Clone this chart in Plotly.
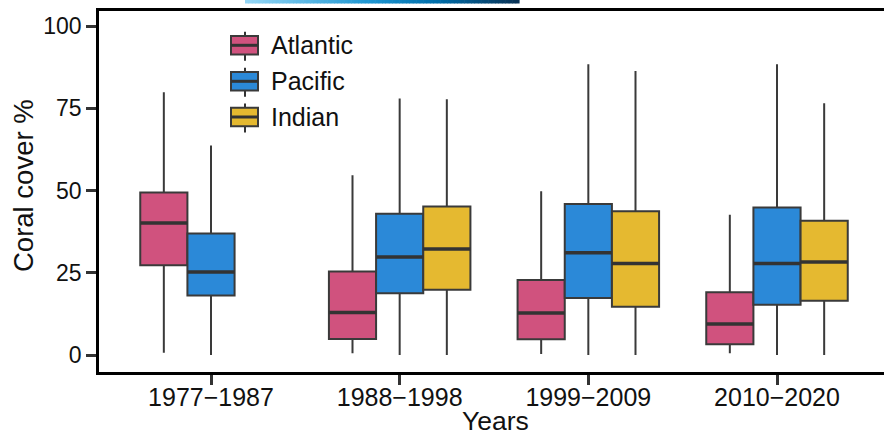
import plotly.graph_objects as go

# ---- data ----
periods = ["1977\u22121987", "1988\u22121998", "1999\u22122009", "2010\u22122020"]
oceans = ["Atlantic", "Pacific", "Indian"]

atl_low = [0.7, 0.5, 0.3, 0.5]
atl_q1 = [27.3, 4.9, 4.8, 3.3]
atl_med = [40.1, 12.9, 12.8, 9.4]
atl_q3 = [49.4, 25.4, 22.8, 19.1]
atl_high = [79.9, 54.6, 49.8, 42.6]

pac_low = [0.0, 0.0, 0.0, 0.0]
pac_q1 = [18.1, 18.8, 17.3, 15.3]
pac_med = [25.2, 29.8, 31.1, 27.8]
pac_q3 = [36.9, 42.9, 45.9, 44.8]
pac_high = [63.7, 78.0, 88.4, 88.4]

ind_periods = periods[1:]
ind_low = [0.0, 0.0, 0.0]
ind_q1 = [19.8, 14.7, 16.5]
ind_med = [32.2, 27.8, 28.3]
ind_q3 = [45.1, 43.7, 40.8]
ind_high = [77.7, 86.3, 76.5]

y_ticks = [0, 25, 50, 75, 100]

colors = {"Atlantic": "rgb(208,82,126)", "Pacific": "rgb(43,137,216)", "Indian": "rgb(229,185,48)"}

series = {
    "Atlantic": (periods, atl_low, atl_q1, atl_med, atl_q3, atl_high),
    "Pacific": (periods, pac_low, pac_q1, pac_med, pac_q3, pac_high),
    "Indian": (ind_periods, ind_low, ind_q1, ind_med, ind_q3, ind_high),
}

W, H = 884, 435
L, R, T, B = 99, 0, 11, 63
PW, PH = W - L - R, H - T - B


def px_x(px):
    return (px - L) / PW


def px_y(py):
    return (H - B - py) / PH


fig = go.Figure()
for name in oceans:
    xs, lo, q1, md, q3, hi = series[name]
    fig.add_trace(go.Box(
        x=xs, lowerfence=lo, q1=q1, median=md, q3=q3, upperfence=hi,
        name=name, offsetgroup=name, fillcolor=colors[name],
        line=dict(color="#3a3a3a", width=2), whiskerwidth=0,
        showlegend=False, hoverinfo="skip",
    ))
for name in oceans:
    xs, lo, q1, md, q3, hi = series[name]
    fig.add_trace(go.Box(
        x=xs, lowerfence=md, q1=md, median=md, q3=md, upperfence=md,
        name=name + " median", offsetgroup=name, fillcolor="rgba(0,0,0,0)",
        line=dict(color="#333333", width=3.5), whiskerwidth=0,
        showlegend=False, hoverinfo="skip",
    ))

shapes = []
annotations = []

# custom legend
leg_rows = [("Atlantic", 45.3), ("Pacific", 81.3), ("Indian", 117.0)]
for name, cy in leg_rows:
    x0, x1 = 231, 258
    shapes.append(dict(type="line", xref="paper", yref="paper",
                       x0=px_x(245), x1=px_x(245), y0=px_y(cy - 13.5), y1=px_y(cy + 15.5),
                       line=dict(color="#333333", width=2)))
    shapes.append(dict(type="rect", xref="paper", yref="paper",
                       x0=px_x(x0), x1=px_x(x1), y0=px_y(cy - 9.3), y1=px_y(cy + 9.3),
                       fillcolor=colors[name], line=dict(color="#3a3a3a", width=2)))
    shapes.append(dict(type="line", xref="paper", yref="paper",
                       x0=px_x(x0), x1=px_x(x1), y0=px_y(cy), y1=px_y(cy),
                       line=dict(color="#333333", width=3)))
    annotations.append(dict(text=name, xref="paper", yref="paper", x=px_x(269), y=px_y(cy),
                            xanchor="left", yanchor="middle", showarrow=False,
                            font=dict(size=25, color="#111111")))

# gradient bar at top
stops = [(0.0, (150, 215, 245)), (0.45, (30, 150, 210)), (0.7, (0, 110, 170)), (1.0, (10, 50, 85))]


def grad(t):
    for (t0, c0), (t1, c1) in zip(stops[:-1], stops[1:]):
        if t <= t1:
            f = (t - t0) / (t1 - t0)
            return "rgb(%d,%d,%d)" % tuple(round(a + (b - a) * f) for a, b in zip(c0, c1))
    return "rgb(%d,%d,%d)" % stops[-1][1]


gx0, gx1, n = 245, 519, 80
for i in range(n):
    a = gx0 + (gx1 - gx0) * i / n
    b = gx0 + (gx1 - gx0) * (i + 1) / n + 0.6
    shapes.append(dict(type="rect", xref="paper", yref="paper",
                       x0=px_x(a), x1=px_x(b), y0=px_y(3.5), y1=px_y(0),
                       fillcolor=grad((i + 0.5) / n), line=dict(width=0), layer="above"))

annotations.append(dict(text="Coral cover %", xref="paper", yref="paper",
                        x=px_x(23), y=px_y(186), textangle=-90, showarrow=False,
                        xanchor="center", yanchor="middle", font=dict(size=27.5, color="#111111")))
annotations.append(dict(text="Years", xref="paper", yref="paper",
                        x=px_x(495), y=px_y(420.5), showarrow=False,
                        xanchor="center", yanchor="middle", font=dict(size=26.5, color="#111111")))

fig.update_layout(
    width=W, height=H,
    margin=dict(l=L, r=R, t=T, b=B),
    paper_bgcolor="white", plot_bgcolor="white",
    boxmode="group", boxgap=0.25, boxgroupgap=0,
    font=dict(family="Liberation Sans, Arial, sans-serif", color="#111111"),
    shapes=shapes, annotations=annotations,
    showlegend=False,
)
fig.update_xaxes(
    type="category", categoryorder="array", categoryarray=periods,
    range=[-(211 - L) / 188.67, 3 + (W - 777) / 188.67],
    showline=True, linecolor="black", linewidth=2.5, mirror=True,
    ticks="outside", ticklen=10, tickwidth=3, tickcolor="#333333",
    ticklabelstandoff=-9,
    tickfont=dict(size=25, color="#111111"), showgrid=False, zeroline=False,
)
fig.update_yaxes(
    range=[-(372 - 355) / 3.29, (355 - 11) / 3.29],
    tickvals=y_ticks, ticktext=[str(v) for v in y_ticks],
    showline=True, linecolor="black", linewidth=2.5,
    ticks="outside", ticklen=10, tickwidth=3, tickcolor="#333333",
    tickfont=dict(size=23, color="#111111"), showgrid=False, zeroline=False,
)

fig.write_html("out.html", config={"displayModeBar": False},
               post_script="document.body.style.margin='0';document.body.style.overflow='hidden';")
